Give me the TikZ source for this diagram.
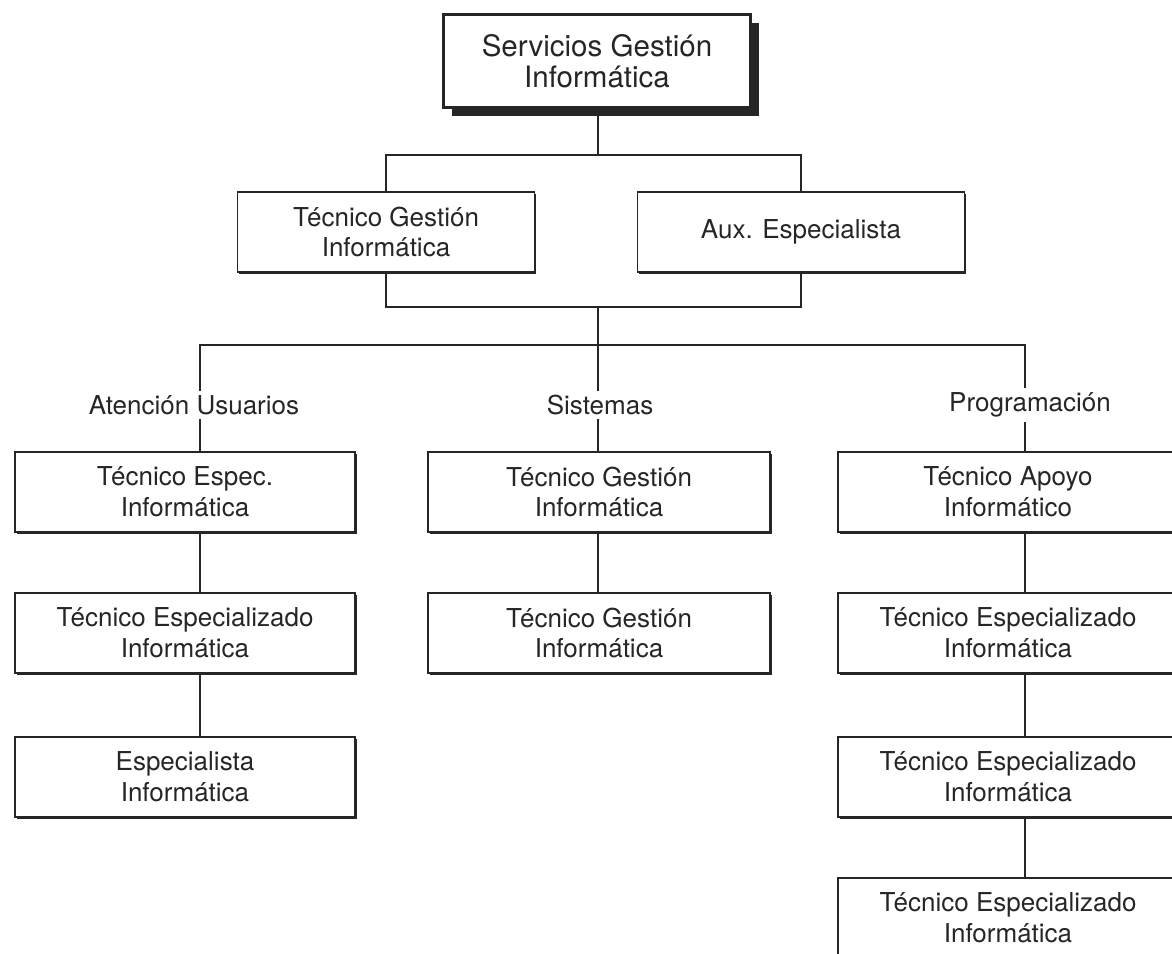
\documentclass[tikz,border=0pt]{standalone}
\usepackage{fontspec}
\setmainfont{TeX Gyre Heros}
\usetikzlibrary{shadows}

% un puesto: nombre, x, y, ancho, texto
\newcommand{\puesto}[5]{
  \node[puesto, minimum width=#4*0.025cm] (#1) at (#2,#3) {#5};
}
% una rama: nombre, x del texto, x de la linea, texto
\newcommand{\rama}[4]{
  \node[rama] (#1) at (#2,405) {#4};
  \coordinate (#1L) at (#3,345);
}

\begin{document}
\begin{tikzpicture}[x=0.025cm, y=-0.025cm,
  linea/.style={draw=black!85, line width=1.3pt},
  caja/.style={draw=black!85, line width=1.1pt, fill=white, align=center,
    minimum height=80*0.025cm, inner sep=0pt, text=black!85,
    font=\fontsize{18.5}{22}\selectfont},
  puesto/.style={caja,
    drop shadow={shadow xshift=1.4pt, shadow yshift=-1.4pt, fill=black!85, opacity=1}},
  jefe/.style={caja, line width=2.2pt, minimum height=93*0.025cm,
    font=\fontsize{21}{22}\selectfont,
    drop shadow={shadow xshift=5.7pt, shadow yshift=-5.7pt, fill=black!85, opacity=1}},
  rama/.style={font=\fontsize{18.5}{22}\selectfont, text=black!85, inner sep=3pt}]
  \useasboundingbox (0,0) rectangle (1172,954);

  % direccion
  \node[jefe, minimum width=307*0.025cm] (sgi) at (597,61) {Servicios Gestión\\Informática};
  \puesto{tgi}{386}{232}{297}{Técnico Gestión\\Informática}
  \puesto{aux}{801}{232}{327}{Aux. Especialista}
  \coordinate (arriba) at (598,155);
  \coordinate (abajo) at (598,307);

  \draw[linea] (sgi.south -| arriba) -- (arriba);
  \draw[linea] (tgi.north) |- (arriba) -| (aux.north);
  \draw[linea] (tgi.south) |- (abajo) -| (aux.south);

  % ramas
  \rama{au}{194}{200}{Atención Usuarios}
  \rama{si}{600}{598}{Sistemas}
  \rama{pr}{1030}{1025}{Programación}
  \draw[linea] (abajo) -- (siL);
  \draw[linea] (au.north -| auL) -- (auL) -- (prL) -- (pr.north -| prL);
  \draw[linea] (siL) -- (si.north -| siL);

  % Atencion Usuarios
  \puesto{au1}{185}{492}{340}{Técnico Espec.\\Informática}
  \puesto{au2}{185}{633}{340}{Técnico Especializado\\Informática}
  \puesto{au3}{185}{777}{340}{Especialista\\Informática}

  % Sistemas
  \puesto{si1}{599}{492}{342}{Técnico Gestión\\Informática}
  \puesto{si2}{599}{633}{342}{Técnico Gestión\\Informática}

  % Programacion
  \puesto{pr1}{1008}{492}{340}{Técnico Apoyo\\Informático}
  \puesto{pr2}{1008}{633}{340}{Técnico Especializado\\Informática}
  \puesto{pr3}{1008}{777}{340}{Técnico Especializado\\Informática}
  \puesto{pr4}{1008}{918}{340}{Técnico Especializado\\Informática}

  \foreach \r/\a/\b in {au/au/au1, au/au1/au2, au/au2/au3,
                        si/si/si1, si/si1/si2,
                        pr/pr/pr1, pr/pr1/pr2, pr/pr2/pr3, pr/pr3/pr4}{
    \draw[linea] (\a.south -| \r L) -- (\b.north -| \r L);
  }
\end{tikzpicture}
\end{document}
